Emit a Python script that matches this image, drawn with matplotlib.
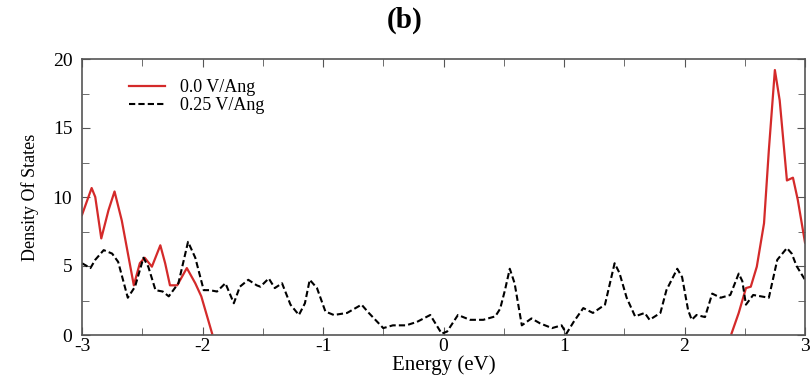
import matplotlib.pyplot as plt
import numpy as np
from matplotlib.ticker import MultipleLocator

plt.rcParams['font.family'] = ['Liberation Serif', 'DejaVu Serif']
plt.rcParams['axes.unicode_minus'] = False

# 0.25 V/Ang curve (black dashed)
e_field = [-3.0, -2.93, -2.89, -2.82, -2.75, -2.70, -2.62, -2.56, -2.49, -2.45,
           -2.39, -2.33, -2.28, -2.20, -2.12, -2.06, -1.99, -1.94, -1.88, -1.81,
           -1.74, -1.69, -1.62, -1.55, -1.52, -1.45, -1.40, -1.34, -1.27, -1.20,
           -1.15, -1.11, -1.05, -0.98, -0.91, -0.80, -0.68, -0.62, -0.50, -0.42,
           -0.31, -0.22, -0.11, -0.015, 0.03, 0.12, 0.22, 0.33, 0.43, 0.47,
           0.51, 0.55, 0.59, 0.65, 0.73, 0.80, 0.90, 0.98, 1.02, 1.08,
           1.16, 1.24, 1.34, 1.42, 1.46, 1.52, 1.59, 1.67, 1.71, 1.80,
           1.85, 1.94, 1.98, 2.03, 2.06, 2.10, 2.17, 2.23, 2.30, 2.38,
           2.45, 2.48, 2.51, 2.57, 2.70, 2.77, 2.85, 2.89, 2.93, 3.0]
dos_field = [5.2, 4.85, 5.45, 6.15, 5.9, 5.3, 2.7, 3.5, 5.6, 4.95,
             3.25, 3.15, 2.8, 3.75, 6.75, 5.6, 3.25, 3.25, 3.15, 3.75,
             2.3, 3.5, 4.0, 3.6, 3.5, 4.1, 3.4, 3.75, 2.2, 1.45,
             2.3, 4.0, 3.4, 1.7, 1.45, 1.6, 2.2, 1.6, 0.5, 0.7,
             0.7, 0.95, 1.45, 0.1, 0.25, 1.45, 1.1, 1.1, 1.35, 1.9,
             3.25, 4.8, 3.75, 0.7, 1.2, 0.85, 0.5, 0.7, 0.1, 0.95,
             1.95, 1.6, 2.2, 5.2, 4.5, 2.7, 1.35, 1.6, 1.1, 1.6,
             3.25, 4.8, 4.2, 1.8, 1.1, 1.45, 1.3, 3.0, 2.7, 2.9,
             4.45, 3.9, 2.2, 2.9, 2.7, 5.45, 6.3, 5.9, 5.0, 4.0]

# 0.0 V/Ang curve (red), gap where it is zero
e_zero = [-3.0, -2.92, -2.89, -2.84, -2.78, -2.73, -2.67, -2.57, -2.52, -2.48,
          -2.42, -2.35, -2.31, -2.27, -2.21, -2.13, -2.06, -2.01, -1.92, np.nan,
          2.39, 2.45, 2.51, 2.55, 2.60, 2.66, 2.70, 2.75, 2.79, 2.85,
          2.90, 2.94, 3.0]
dos_zero = [8.7, 10.65, 10.0, 7.0, 9.05, 10.4, 8.3, 3.6, 5.2, 5.6,
            4.95, 6.5, 5.2, 3.6, 3.6, 4.85, 3.75, 2.8, 0.1, np.nan,
            0.1, 1.6, 3.4, 3.5, 4.95, 8.1, 13.4, 19.2, 17.0, 11.2,
            11.4, 9.8, 6.7]

fig = plt.figure(figsize=(8.1, 3.76), dpi=100)
ax = fig.add_axes([82 / 810, 41 / 376, 723 / 810, 276 / 376])

ax.plot(e_zero, dos_zero, color='#d42a2a', lw=1.6, label='0.0 V/Ang')
ax.plot(e_field, dos_field, color='black', lw=1.5, ls=(0, (3, 1.5)), label='0.25 V/Ang')

ax.set_xlim(-3, 3)
ax.set_ylim(0, 20)
ax.xaxis.set_major_locator(MultipleLocator(1))
ax.xaxis.set_minor_locator(MultipleLocator(0.5))
ax.yaxis.set_major_locator(MultipleLocator(5))
ax.yaxis.set_minor_locator(MultipleLocator(2.5))
ax.tick_params(which='both', direction='in', top=True, right=True, labelsize=14,
               color='#555555')
ax.tick_params(axis='y', pad=7)
ax.tick_params(axis='x', pad=2)
ax.tick_params(which='major', length=6)
ax.tick_params(which='minor', length=5)
for s in ax.spines.values():
    s.set_color('#555555')
    s.set_linewidth(1.2)

ax.set_xlabel('Energy (eV)', fontsize=15, labelpad=0.5)
ax.set_ylabel('Density Of States', fontsize=13, labelpad=10)
fig.text(0.5, 0.945, '(b)', ha='center', va='center', fontsize=21, fontweight='bold')

ax.legend(loc='upper left', frameon=False, fontsize=13, handlelength=2.0,
          borderaxespad=0.4, labelspacing=0.05, bbox_to_anchor=(0.045, 0.98))

fig.savefig('out.png', dpi=100)
